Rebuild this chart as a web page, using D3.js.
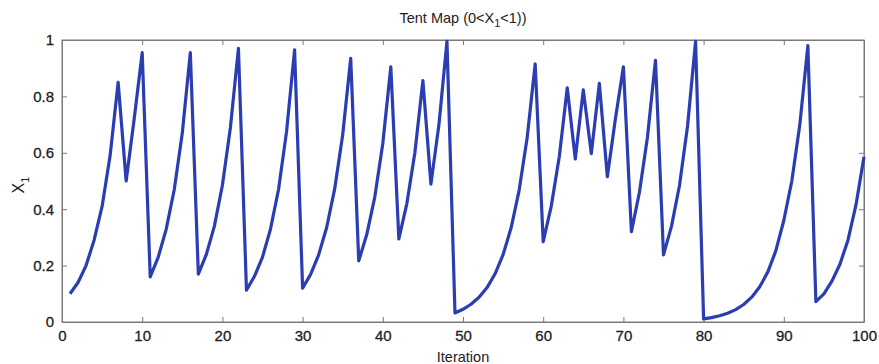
<!DOCTYPE html>
<html>
<head>
<meta charset="utf-8">
<script src="https://cdn.jsdelivr.net/npm/d3@7"></script>
<style>
    body { margin: 0; background: #fff; }
    svg { display: block; font-family: "Liberation Sans", Arial, sans-serif; }
    .axis path, .axis line { stroke: #7a7a7a; }
    .axis text { fill: #1e1e1e; font-size: 15px; }
</style>
</head>
<body>
<svg id="chart" width="879" height="364"></svg>
<script>
// iterations 1..100 and the tent map value
var iterations = d3.range(1, 101)
var xValues = [
    0.10, 0.14, 0.20, 0.29, 0.41, 0.59, 0.85, 0.50, 0.72, 0.955,
    0.16, 0.23, 0.33, 0.47, 0.67, 0.955, 0.17, 0.24, 0.34, 0.485,
    0.69, 0.97, 0.113, 0.162, 0.23, 0.33, 0.47, 0.675, 0.965, 0.12,
    0.169, 0.238, 0.335, 0.472, 0.664, 0.935, 0.217, 0.31, 0.443, 0.633,
    0.905, 0.295, 0.42, 0.60, 0.856, 0.489, 0.70, 0.995, 0.032, 0.045,
    0.063, 0.088, 0.122, 0.171, 0.239, 0.334, 0.467, 0.653, 0.915, 0.285,
    0.41, 0.585, 0.83, 0.578, 0.823, 0.597, 0.846, 0.515, 0.72, 0.905,
    0.32, 0.46, 0.655, 0.928, 0.238, 0.34, 0.485, 0.695, 0.995, 0.011,
    0.0155, 0.022, 0.031, 0.044, 0.062, 0.088, 0.125, 0.177, 0.252, 0.36,
    0.50, 0.70, 0.98, 0.072, 0.10, 0.145, 0.205, 0.29, 0.415, 0.586
]
var xTicks = [0, 10, 20, 30, 40, 50, 60, 70, 80, 90, 100]
var yTicks = [0, 0.2, 0.4, 0.6, 0.8, 1]

var svg = d3.select('#chart')
var margin = { left: 62, top: 40, right: 15, bottom: 42 }
var width = 879 - margin.left - margin.right
var height = 364 - margin.top - margin.bottom

var xScale = d3.scaleLinear().domain([0, 100]).range([0, width])
var yScale = d3.scaleLinear().domain([0, 1]).range([height, 0])

var chart = svg.append('g')
    .attr('transform', 'translate(' + margin.left + ', ' + margin.top + ')')

// box with inward ticks on all four sides, matlab style
var fmt = function (d) { return d === 0 || d === 1 ? String(d) : d3.format('.1f')(d) }

chart.append('g')
    .attr('class', 'axis')
    .attr('transform', 'translate(0, ' + height + ')')
    .call(d3.axisBottom(xScale).tickValues(xTicks).tickSize(-5).tickSizeOuter(0).tickPadding(8))
chart.append('g')
    .attr('class', 'axis')
    .call(d3.axisTop(xScale).tickValues(xTicks).tickSize(-5).tickSizeOuter(0).tickFormat(''))
chart.append('g')
    .attr('class', 'axis')
    .call(d3.axisLeft(yScale).tickValues(yTicks).tickSize(-5).tickSizeOuter(0).tickPadding(8).tickFormat(fmt))
chart.append('g')
    .attr('class', 'axis')
    .attr('transform', 'translate(' + width + ', 0)')
    .call(d3.axisRight(yScale).tickValues(yTicks).tickSize(-5).tickSizeOuter(0).tickFormat(''))

chart.selectAll('.axis').attr('font-family', null).attr('font-size', null)
chart.selectAll('.axis text').attr('stroke', '#1e1e1e').attr('stroke-width', 0.3)

chart.append('rect')
    .attr('width', width)
    .attr('height', height)
    .attr('fill', 'none')
    .attr('stroke', '#7a7a7a')

var line = d3.line()
    .x(function (d, i) { return xScale(iterations[i]) })
    .y(function (d) { return yScale(d) })

chart.append('path')
    .datum(xValues)
    .attr('d', line)
    .attr('fill', 'none')
    .attr('stroke', '#2a3db3')
    .attr('stroke-width', 3.2)
    .attr('stroke-linejoin', 'round')

// labels
var title = svg.append('text')
    .attr('x', margin.left + width / 2)
    .attr('y', 23)
    .attr('text-anchor', 'middle')
    .attr('font-size', 14.5)
    .attr('fill', '#222')
title.append('tspan').text('Tent Map (0<X')
title.append('tspan').attr('dy', 4).attr('font-size', 11).text('1')
title.append('tspan').attr('dy', -4).text('<1))')

svg.append('text')
    .attr('x', margin.left + width / 2)
    .attr('y', 362)
    .attr('text-anchor', 'middle')
    .attr('font-size', 14.5)
    .attr('fill', '#222')
    .text('Iteration')

var ylab = svg.append('text')
    .attr('transform', 'translate(24, 185) rotate(-90)')
    .attr('text-anchor', 'middle')
    .attr('font-size', 16)
    .attr('fill', '#222')
ylab.append('tspan').text('X')
ylab.append('tspan').attr('dy', 5).attr('font-size', 11).text('1')
</script>
</body>
</html>
